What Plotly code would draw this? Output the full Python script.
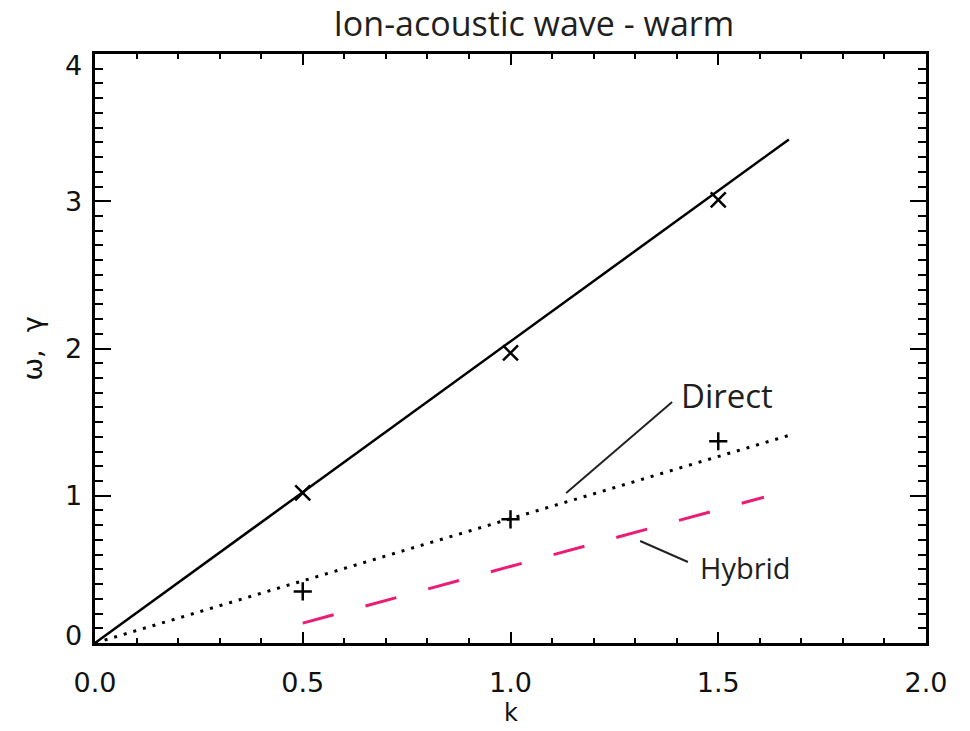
import plotly.graph_objects as go

# ---- data ----
k_omega_line = [0.0, 1.67]
omega_line = [0.0, 3.42]
k_gamma_line = [0.0, 1.67]
gamma_line = [0.0, 1.41]
k_hybrid = [0.5, 1.61]
gamma_hybrid = [0.135, 0.99]
k_pts = [0.5, 1.0, 1.5]
omega_pts = [1.02, 1.97, 3.01]
gamma_pts = [0.35, 0.84, 1.37]

x_tick_vals = [0.0, 0.5, 1.0, 1.5, 2.0]
x_tick_text = ["0.0", "0.5", "1.0", "1.5", "2.0"]
y_tick_vals = [0, 1, 2, 3, 4]
y_tick_text = ["0", "1", "2", "3", "4"]

direct_ptr_k = [1.134, 1.389]
direct_ptr_y = [1.019, 1.637]
hybrid_ptr_k = [1.312, 1.427]
hybrid_ptr_y = [0.693, 0.550]
label_direct = ("Direct", 1.405, 1.684)
label_hybrid = ("Hybrid", 1.452, 0.516)

TICKFONT = dict(family="DejaVu Sans", size=27, color="#111")
TXTFONT = "Open Sans"

fig = go.Figure()
fig.add_trace(go.Scatter(x=k_omega_line, y=omega_line, mode="lines",
                         line=dict(color="black", width=2.5), showlegend=False))
fig.add_trace(go.Scatter(x=k_gamma_line, y=gamma_line, mode="lines",
                         line=dict(color="black", width=3, dash="3px,7px"), showlegend=False))
fig.add_trace(go.Scatter(x=k_hybrid, y=gamma_hybrid, mode="lines",
                         line=dict(color="#EC1C74", width=3, dash="32px,33px"), showlegend=False))
fig.add_trace(go.Scatter(x=k_pts, y=omega_pts, mode="markers",
                         marker=dict(symbol="x-thin", size=15, line=dict(color="black", width=2.5)),
                         showlegend=False))
fig.add_trace(go.Scatter(x=k_pts, y=gamma_pts, mode="markers",
                         marker=dict(symbol="cross-thin", size=13, line=dict(color="black", width=2.5)),
                         showlegend=False))

# pointer lines
fig.add_shape(type="line", xref="x", yref="y",
              x0=direct_ptr_k[0], y0=direct_ptr_y[0], x1=direct_ptr_k[1], y1=direct_ptr_y[1],
              line=dict(color="#222", width=2))
fig.add_shape(type="line", xref="x", yref="y",
              x0=hybrid_ptr_k[0], y0=hybrid_ptr_y[0], x1=hybrid_ptr_k[1], y1=hybrid_ptr_y[1],
              line=dict(color="#222", width=2))

for txt, kx, yy in [label_direct, label_hybrid]:
    fig.add_annotation(x=kx, y=yy, xref="x", yref="y", text=txt, showarrow=False,
                       xanchor="left", yanchor="middle",
                       font=dict(family=TXTFONT, size=33 if txt == "Direct" else 29, color="#231f20"))

# y tick labels (end labels nudged inside like the original)
shifts = {0: 8, 4: -11}
for v, t in zip(y_tick_vals, y_tick_text):
    fig.add_annotation(x=0, y=v, xref="paper", yref="y", text=t, showarrow=False,
                       xanchor="right", yanchor="middle", xshift=-11, yshift=shifts.get(v, 0),
                       font=TICKFONT)

# axis titles
fig.add_annotation(x=0.5, y=0, xref="paper", yref="paper", text="k", showarrow=False,
                   xanchor="center", yanchor="middle", yshift=-70, borderpad=0,
                   font=dict(family="DejaVu Sans", size=24, color="#111"))
fig.add_annotation(x=0, y=0.5, xref="paper", yref="paper", text="ω,  γ", showarrow=False,
                   textangle=-90, xanchor="center", yanchor="middle", xshift=-63, yshift=0,
                   font=dict(family="DejaVu Sans", size=27, color="#111"))

fig.update_layout(
    width=970, height=731,
    margin=dict(l=95, r=44, t=54, b=88),
    paper_bgcolor="white", plot_bgcolor="white",
    title=dict(text="Ion-acoustic wave - warm", x=0.528, xanchor="center", y=0.967, yanchor="middle",
               xref="paper",
               font=dict(family=TXTFONT, size=34, color="#231f20")),
    xaxis=dict(range=[0, 2], tickvals=x_tick_vals, ticktext=x_tick_text,
               showgrid=False, zeroline=False, showline=True, linecolor="black", linewidth=3,
               mirror="ticks", ticks="inside", ticklen=11, tickwidth=2, tickcolor="black",
               tickfont=TICKFONT, ticklabelstandoff=14,
               minor=dict(dtick=0.1, ticks="inside", ticklen=5, tickwidth=2, tickcolor="black", showgrid=False)),
    yaxis=dict(range=[0, 4], tickvals=y_tick_vals, showticklabels=False,
               showgrid=False, zeroline=False, showline=True, linecolor="black", linewidth=3,
               mirror="ticks", ticks="inside", ticklen=16, tickwidth=2, tickcolor="black",
               minor=dict(dtick=0.1, ticks="inside", ticklen=8, tickwidth=2, tickcolor="black", showgrid=False)),
)

fig.write_html("out.html")
